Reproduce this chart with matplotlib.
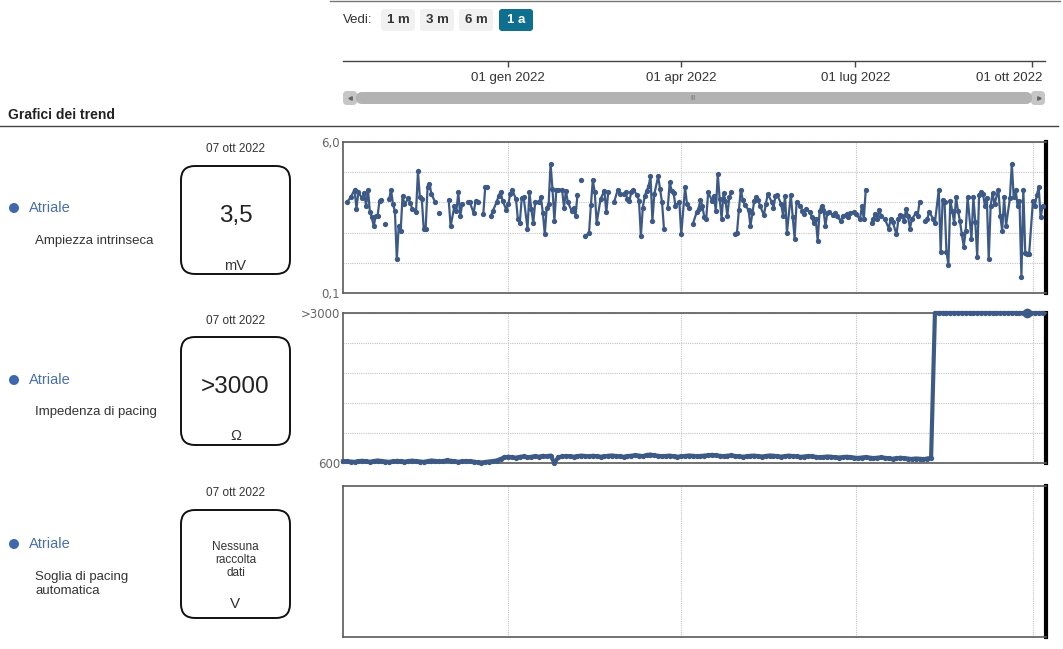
import numpy as np
import matplotlib
matplotlib.use("Agg")
import matplotlib.pyplot as plt
from matplotlib.patches import FancyBboxPatch, Circle
from matplotlib.transforms import offset_copy

plt.rcParams['font.family'] = ['Liberation Sans', 'DejaVu Sans']

W, H = 1063, 649
START = np.datetime64('2021-10-07')
X_END = np.datetime64('2022-10-07T19:00')

# ---------------- data ----------------
nav_tick_dates = ['2022-01-01', '2022-04-01', '2022-07-01', '2022-10-01']
nav_tick_labels = ['01 gen 2022', '01 apr 2022', '01 lug 2022', '01 ott 2022']
range_buttons = ['1 m', '3 m', '6 m', '1 a']
active_button = '1 a'

chamber = 'Atriale'
last_date = '07 ott 2022'
param_names = ['Ampiezza intrinseca', 'Impedenza di pacing', 'Soglia di pacing\nautomatica']
last_values = ['3,5', '>3000', 'Nessuna\nraccolta\ndati']
units = ['mV', 'Ω', 'V']

amp_limits = [0.1, 6.0]
amp_limit_labels = ['0,1', '6,0']
imp_limits = [600, 3000]
imp_limit_labels = ['600', '>3000']

# Ampiezza intrinseca (mV), day offsets from 07 ott 2021; None = no data
amp_days = [
    2, 4, 6, 7, 8, 10, 11, 12, 13, 14,
    15, 16, 17, 18, 19, 20, 21, 22, 23, 24,
    25, 26, 27, 28, 29, 30, 31, 32, 34, 35,
    36, 38, 39, 40, 41, 42, 43, 44, 45, 46,
    48, 49, 50, 51, 55, 56, 58, 59, 60, 61,
    62, 63, 65, 66, 68, 69, 70, 71, 73, 74,
    75, 76, 77, 78, 80, 81, 82, 83, 85, 86,
    87, 88, 90, 91, 92, 93, 94, 96, 97, 98,
    99, 100, 102, 103, 104, 105, 106, 107, 108, 109,
    110, 111, 112, 114, 115, 116, 117, 119, 120, 121,
    122, 123, 124, 125, 126, 128, 129, 130, 131, 132,
    134, 136, 137, 138, 139, 141, 143, 144, 146, 147,
    148, 149, 150, 151, 153, 154, 155, 156, 157, 158,
    159, 160, 161, 162, 164, 165, 166, 167, 168, 169,
    170, 171, 172, 173, 175, 176, 178, 179, 180, 181,
    182, 184, 185, 186, 187, 188, 189, 190, 192, 193,
    194, 195, 196, 197, 198, 199, 200, 201, 202, 203,
    204, 205, 206, 207, 208, 209, 211, 212, 213, 214,
    215, 216, 217, 219, 220, 221, 223, 224, 225, 226,
    228, 229, 230, 231, 233, 234, 235, 236, 238, 239,
    240, 241, 243, 244, 245, 246, 247, 248, 249, 250,
    251, 252, 253, 255, 256, 257, 259, 260, 262, 263,
    264, 266, 267, 269, 270, 271, 272, 273, 275, 276,
    277, 278, 279, 280, 281, 282, 284, 285, 286, 288,
    289, 290, 291, 292, 293, 294, 295, 296, 298, 299,
    300, 301, 303, 304, 305, 307, 308, 310, 311, 312,
    313, 314, 315, 316, 317, 318, 319, 320, 321, 322,
    323, 324, 325, 327, 328, 329, 330, 331, 332, 333,
    334, 335, 336, 337, 338, 339, 341, 342, 343, 344,
    345, 347, 348, 349, 350, 351, 352, 353, 354, 355,
    356, 357, 359, 360, 361, 362, 363, 364,
]
amp_mv = [
    3.64, 3.84, 4.14, 3.40, 4.03, 3.80, 4.01, 3.51, 4.14, 3.27,
    3.05, 2.70, 3.12, 3.12, 3.71, 3.74, None, 2.81, None, 3.77,
    4.14, 3.56, 3.31, 1.41, 2.72, 2.53, 3.90, 3.56, 3.80, 3.61,
    3.40, 3.27, 4.85, 3.84, 3.77, 2.62, 2.62, 4.23, 4.36, 3.97,
    3.64, None, 3.22, None, 3.74, 2.70, 3.51, 3.31, 4.03, 3.12,
    3.56, None, 3.64, 3.64, 3.22, 3.71, 3.67, None, 3.18, 4.23,
    4.23, None, 3.12, 3.31, 3.67, 3.90, 4.06, 3.71, 3.35, 3.56,
    3.97, 4.14, 3.77, 2.98, 2.85, 3.80, 3.84, 2.62, 4.03, 3.38,
    2.83, 3.64, 3.67, 3.84, 3.22, 2.39, 3.44, 3.57, 5.15, 4.16,
    2.92, 4.14, 4.14, 4.14, 3.44, 4.10, 3.64, 3.31, 3.44, 3.12,
    3.93, None, 4.53, None, 2.33, 2.43, 3.54, 4.53, 4.03, 2.83,
    3.77, 4.10, 3.25, 4.03, None, 3.64, 4.14, 3.97, 3.97, 4.03,
    3.77, 3.71, 4.03, 4.14, 3.93, 3.71, 2.33, 3.44, 3.90, 4.10,
    4.27, 4.66, 2.92, 3.97, 4.66, 4.16, 3.64, 2.62, None, 3.44,
    4.43, 4.10, 4.01, 3.51, 3.67, 2.39, 4.23, 3.57, 3.44, None,
    2.79, 3.25, 3.40, 3.74, 3.51, 3.05, 3.01, 4.03, 3.71, 3.90,
    3.31, 4.75, 3.77, 3.01, 4.01, 3.71, 3.12, 3.84, 4.03, None,
    2.39, 2.46, 3.35, 4.14, 3.74, 3.54, 3.35, 2.72, 3.22, 3.71,
    3.84, 3.74, 3.51, 3.14, 3.57, 3.97, 3.67, 3.44, 3.88, 3.93,
    3.57, 3.12, 3.90, 2.46, 3.93, 3.05, 2.22, 3.64, 3.51, 3.31,
    3.18, 3.38, 3.25, 3.05, 2.83, 2.98, 2.13, 3.31, 3.51, 3.35,
    2.72, 3.22, 3.27, 3.14, 3.22, 3.09, 2.92, 3.12, 3.18, 3.05,
    3.22, 3.27, 3.18, 2.98, 3.51, 2.98, 4.14, None, 2.85, 3.01,
    3.18, 2.98, 3.35, 3.12, None, 2.98, 2.62, 3.01, 2.88, 2.39,
    2.98, 3.14, 3.09, 2.92, 3.40, 3.09, 2.62, 2.98, 3.22, 3.12,
    3.67, None, 2.92, 2.98, 3.27, 3.01, 2.85, 4.14, 1.70, 3.74,
    3.67, 1.70, 1.21, 3.71, 3.31, 2.85, 3.84, 3.31, 2.92, 2.39,
    1.91, 2.53, 3.84, 2.22, 3.84, 2.88, 1.52, 3.93, 4.03, 3.97,
    3.51, 3.80, 1.41, 3.51, 4.01, 3.57, 4.14, 3.12, 2.53, 3.84,
    2.72, 3.80, 5.15, 3.84, 4.14, 3.51, 3.71, 0.73, 4.14, 1.67,
    1.61, 1.61, 3.71, 3.51, 3.93, 4.23, 3.05, 3.50,
]

# Impedenza di pacing (ohm), every 2 days from 07 ott 2021
imp_days = list(range(0, 365, 2))
imp_ohm = [
    625, 630, 622, 618, 628, 635, 626, 620, 630, 640,
    632, 624, 618, 626, 634, 628, 622, 630, 638, 630,
    624, 618, 628, 640, 632, 625, 630, 642, 636, 628,
    620, 626, 632, 628, 622, 612, 608, 615, 624, 630,
    640, 665, 690, 700, 692, 685, 698, 705, 690, 698,
    710, 700, 715, 705, 720,
    600,
    690, 705, 712, 708, 700, 710, 718, 712, 705, 715,
    710, 700, 708, 715, 720, 712, 705, 700, 710, 716,
    724, 718, 710, 728, 735, 722, 715, 706, 712, 718,
    708, 700, 705, 712, 720, 715, 708, 712, 718, 725,
    730, 722, 715, 708, 716, 722, 712, 705, 700, 708,
    715, 718, 710, 704, 712, 720, 716, 708, 702, 710,
    718, 710, 705, 698, 704, 712, 706, 698, 690, 696,
    704, 700, 692, 688, 694, 700, 694, 686, 680, 688,
    694, 686, 678, 684, 690, 682, 674, 668, 676, 684,
    678, 670, 664, 672, 668, 660, 672, 680,
    3000, 3000, 3000, 3000, 3000, 3000, 3000, 3000, 3000, 3000,
    3000, 3000, 3000, 3000, 3000, 3000, 3000, 3000, 3000, 3000,
    3000, 3000, 3000, 3000, 3000, 3000, 3000, 3000, 3000,
]
imp_highlight_day = 356

# ---------------- styling ----------------
LINE = '#3d5a86'
ATRIAL = '#4a6fa8'
DOT = '#3d68ad'
TXT = '#333333'
AXTXT = '#666666'
GRID = '#c4c4c4'
BTN = '#f1f1f1'
BTN_ACTIVE = '#0f6f8f'
NARROW = ['Liberation Sans Narrow', 'Liberation Sans']


def to_dates(days):
    return START + np.array(days, dtype='timedelta64[D]')


def rect(x0, y0, x1, y1):
    return [x0 / W, 1 - y1 / H, (x1 - x0) / W, (y1 - y0) / H]


fig = plt.figure(figsize=(W / 100, H / 100), dpi=100)
ov = fig.add_axes([0, 0, 1, 1], zorder=0)
ov.set_xlim(0, W)
ov.set_ylim(H, 0)
ov.axis('off')

# ---- top range selector ----
ov.plot([330, 1060], [1, 1], color='#777777', lw=1)
ov.text(343, 20, 'Vedi:', fontsize=9.5, color=TXT, va='center', ha='left', family=NARROW)
btn_x = [381, 420, 459, 499]
for bx, lab in zip(btn_x, range_buttons):
    active = lab == active_button
    ov.add_patch(FancyBboxPatch((bx, 9), 34, 22, boxstyle='round,pad=0,rounding_size=3',
                                fc=BTN_ACTIVE if active else BTN, ec='none'))
    ov.text(bx + 17, 20, lab, fontsize=9.5, ha='center', va='center',
            color='white' if active else TXT, fontweight='bold', family=NARROW)

# ---- navigator axis ----
nav = fig.add_axes(rect(343, 55, 1045, 61), facecolor='none')
nav.set_xlim(START, X_END)
for s in ['left', 'right', 'top']:
    nav.spines[s].set_visible(False)
nav.spines['bottom'].set_color('#444444')
nav.spines['bottom'].set_linewidth(1)
nav.set_yticks([])
nav.set_xticks(np.array(nav_tick_dates, dtype='datetime64[D]'))
nav.set_xticklabels(nav_tick_labels, fontsize=9.5, color=TXT, family=NARROW)
nav.tick_params(axis='x', direction='out', length=4, width=1, color='#444444', pad=4)
last_lab = nav.get_xticklabels()[-1]
last_lab.set_horizontalalignment('right')
last_lab.set_transform(offset_copy(last_lab.get_transform(), fig=fig, x=10, y=0, units='dots'))

# scrollbar
ov.add_patch(FancyBboxPatch((343, 91), 14, 14, boxstyle='round,pad=0,rounding_size=4',
                            fc='#c6c6c6', ec='none'))
ov.add_patch(FancyBboxPatch((1031, 91), 14, 14, boxstyle='round,pad=0,rounding_size=4',
                            fc='#c6c6c6', ec='none'))
ov.add_patch(FancyBboxPatch((356, 92), 676, 12, boxstyle='round,pad=0,rounding_size=6',
                            fc='#b3b3b3', ec='none'))
ov.plot([349.5], [98], marker='<', ms=2.5, color='#666666')
ov.plot([1038.5], [98], marker='>', ms=2.5, color='#666666')
ov.text(693, 98.5, 'III', fontsize=5, color='#7a7a7a', ha='center', va='center')

# ---- section title ----
ov.text(8, 115, 'Grafici dei trend', fontsize=10, fontweight='bold', color='#222222',
        va='center', ha='left')
ov.plot([0, 1058], [126, 126], color='#444444', lw=1)

# ---- left panels ----
row_tops = [142, 313, 486]
atrial_y = [208, 380, 544]
param_y = [241, 412, 584]
for i, top in enumerate(row_tops):
    ov.add_patch(Circle((14, atrial_y[i]), 5, fc=DOT, ec='none'))
    ov.text(29, atrial_y[i], chamber, fontsize=10.5, color=ATRIAL, va='center', ha='left')
    ov.text(35, param_y[i], param_names[i], fontsize=9.5, color=TXT, va='center', ha='left',
            linespacing=1.25)
    ov.text(235.5, top + 7.5, last_date, fontsize=8.5, color=TXT, ha='center', va='center')
    ov.add_patch(FancyBboxPatch((181, top + 24), 109, 108,
                                boxstyle='round,pad=0,rounding_size=14',
                                fc='white', ec='#111111', lw=1.4))
    if i == 2:
        ov.text(235.5, top + 74, last_values[i], fontsize=8.5, color=TXT, ha='center',
                va='center', linespacing=1.1)
        ov.text(235.5, top + 118, units[i], fontsize=11, color=TXT, ha='center', va='center')
    else:
        ov.text(235.5, top + 74, last_values[i], fontsize=17.5, color='#222222',
                ha='center', va='center')
        ov.text(235.5, top + 123.5, units[i], fontsize=10.5, color=TXT, ha='center',
                va='center')

# ---- trend charts ----
ax_rects = [rect(343, 142, 1046, 293), rect(343, 313, 1046, 463), rect(343, 486, 1046, 637)]
axes = []
for r in ax_rects:
    ax = fig.add_axes(r, zorder=2)
    ax.set_xlim(START, X_END)
    ax.set_xticks(np.array(nav_tick_dates, dtype='datetime64[D]'))
    ax.set_xticklabels([])
    ax.tick_params(length=0, labelsize=8.5, labelcolor=AXTXT, pad=2)
    ax.grid(axis='x', color=GRID, linestyle=(0, (1, 1)), lw=0.8)
    for s in ['left', 'top', 'bottom']:
        ax.spines[s].set_color('#5a5a5a')
        ax.spines[s].set_linewidth(1.2)
    ax.spines['right'].set_color('black')
    ax.spines['right'].set_linewidth(3)
    ax.set_axisbelow(True)
    axes.append(ax)

ax1, ax2, ax3 = axes

# chart 1: amplitude
amp_vals = np.array([np.nan if v is None else v for v in amp_mv], dtype=float)
ax1.set_ylim(*amp_limits)
ax1.set_yticks(np.linspace(amp_limits[0], amp_limits[1], 6))
ax1.set_yticklabels([amp_limit_labels[0], '', '', '', '', amp_limit_labels[1]],
                    family='DejaVu Sans')
ax1.grid(axis='y', color=GRID, linestyle=(0, (1, 1)), lw=0.8)
ax1.plot(to_dates(amp_days), amp_vals, color=LINE, lw=1.6, marker='o', ms=3.8,
         markeredgewidth=0, zorder=3)

# chart 2: impedance
ax2.set_ylim(*imp_limits)
ax2.set_yticks(np.linspace(imp_limits[0], imp_limits[1], 6))
ax2.set_yticklabels([imp_limit_labels[0], '', '', '', '', imp_limit_labels[1]],
                    family='DejaVu Sans')
ax2.grid(axis='y', color=GRID, linestyle=(0, (1, 1)), lw=0.8)
ax2.plot(to_dates(imp_days), imp_ohm, color=LINE, lw=3.0, marker='o', ms=3.8,
         markeredgewidth=0, zorder=3, clip_on=False, solid_joinstyle='round')
hi = imp_days.index(imp_highlight_day)
ax2.plot(to_dates([imp_highlight_day]), [imp_ohm[hi]], color=LINE, marker='o', ms=7,
         markeredgewidth=0, zorder=4, clip_on=False)

# chart 3: no data
ax3.set_ylim(0, 1)
ax3.set_yticks([])

fig.savefig('out.png', dpi=100)
